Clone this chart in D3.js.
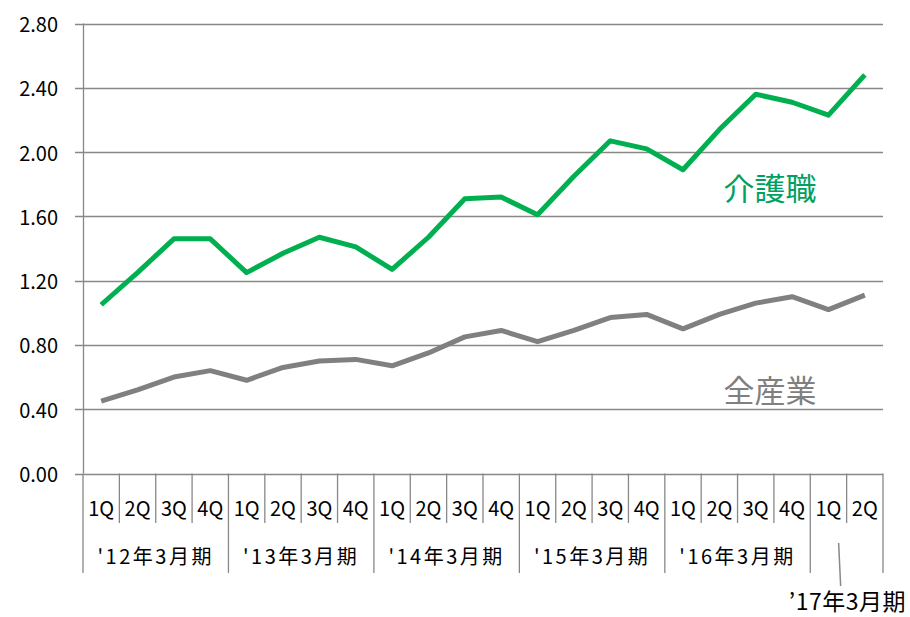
<!DOCTYPE html>
<html>
<head>
<meta charset="utf-8">
<script src="https://cdn.jsdelivr.net/npm/d3@7"></script>
<style>
  html, body { margin: 0; padding: 0; background: #fff; }
  svg { display: block; font-family: "Noto Sans CJK JP", "DejaVu Sans", sans-serif; }
</style>
</head>
<body>
<svg id="chart" width="910" height="617"></svg>
<script>
const quarters = ['1Q','2Q','3Q','4Q','1Q','2Q','3Q','4Q','1Q','2Q','3Q','4Q',
                  '1Q','2Q','3Q','4Q','1Q','2Q','3Q','4Q','1Q','2Q'];
const fiscalYears = ["'12年3月期", "'13年3月期", "'14年3月期", "'15年3月期", "'16年3月期", "’17年3月期"];
const yearSpan = [4, 4, 4, 4, 4, 2];
const kaigo = [1.05, 1.25, 1.46, 1.46, 1.25, 1.37, 1.47, 1.41, 1.27, 1.47, 1.71, 1.72,
               1.61, 1.85, 2.07, 2.02, 1.89, 2.14, 2.36, 2.31, 2.23, 2.48];
const zensangyo = [0.45, 0.52, 0.60, 0.64, 0.58, 0.66, 0.70, 0.71, 0.67, 0.75, 0.85, 0.89,
                   0.82, 0.89, 0.97, 0.99, 0.90, 0.99, 1.06, 1.10, 1.02, 1.11];
const yTicks = [0, 0.4, 0.8, 1.2, 1.6, 2.0, 2.4, 2.8];

const svg = d3.select('#chart');
const plot = { left: 83, right: 883, top: 23.5, bottom: 473.5 };
const gridColor = '#888';

const x = d3.scaleBand().domain(d3.range(quarters.length)).range([plot.left, plot.right]).padding(0);
const y = d3.scaleLinear().domain([0, 2.8]).range([plot.bottom, plot.top]);
const cx = i => x(i) + x.bandwidth() / 2;

// gridlines + y labels
svg.append('g').selectAll('line').data(yTicks).join('line')
  .attr('x1', plot.left - 8).attr('x2', plot.right)
  .attr('y1', d => Math.round(y(d)) + 0.5).attr('y2', d => Math.round(y(d)) + 0.5)
  .attr('stroke', gridColor).attr('stroke-width', 1.3);
svg.append('g').selectAll('text').data(yTicks).join('text')
  .attr('x', 58).attr('y', d => y(d))
  .attr('text-anchor', 'end').attr('dominant-baseline', 'central')
  .attr('font-size', 20).attr('fill', '#000')
  .text(d => d.toFixed(2));

// vertical axis line
svg.append('line').attr('x1', plot.left + 0.5).attr('x2', plot.left + 0.5)
  .attr('y1', plot.top).attr('y2', plot.bottom).attr('stroke', gridColor).attr('stroke-width', 1.3);

// category axis: quarter separators, longer at fiscal-year boundaries
const yearStarts = yearSpan.map((s, k) => d3.sum(yearSpan.slice(0, k)));
const bounds = d3.range(quarters.length + 1);
svg.append('g').selectAll('line').data(bounds).join('line')
  .attr('x1', i => i < quarters.length ? x(i) : plot.right)
  .attr('x2', i => i < quarters.length ? x(i) : plot.right)
  .attr('y1', plot.bottom)
  .attr('y2', i => (yearStarts.includes(i) || i === quarters.length) ? 573 : 523)
  .attr('stroke', gridColor).attr('stroke-width', 1.3);

svg.append('g').selectAll('text').data(quarters).join('text')
  .attr('x', (d, i) => cx(i)).attr('y', 507)
  .attr('text-anchor', 'middle').attr('dominant-baseline', 'central')
  .attr('font-size', 20).attr('fill', '#000')
  .text(d => d);

// fiscal year labels (the last one is a callout)
svg.append('g').selectAll('text').data(fiscalYears.slice(0, 5)).join('text')
  .attr('x', (d, k) => x(yearStarts[k]) + x.bandwidth() * yearSpan[k] / 2)
  .attr('y', 555)
  .attr('text-anchor', 'middle').attr('dominant-baseline', 'central')
  .attr('font-size', 20).attr('letter-spacing', 2.5).attr('fill', '#000')
  .text(d => d);

const lastK = fiscalYears.length - 1;
const lastCenter = x(yearStarts[lastK]) + x.bandwidth() * yearSpan[lastK] / 2;
svg.append('line')
  .attr('x1', lastCenter - 8).attr('y1', 543)
  .attr('x2', lastCenter - 6).attr('y2', 586)
  .attr('stroke', gridColor).attr('stroke-width', 1.5);
svg.append('text')
  .attr('x', 906).attr('y', 600)
  .attr('text-anchor', 'end').attr('dominant-baseline', 'central')
  .attr('font-size', 23).attr('letter-spacing', 0.5).attr('fill', '#000')
  .text(fiscalYears[lastK]);

// series
const line = d3.line().x((d, i) => cx(i)).y(d => y(d));
svg.append('path').datum(zensangyo)
  .attr('d', line).attr('fill', 'none')
  .attr('stroke', '#808080').attr('stroke-width', 5).attr('stroke-linejoin', 'round');
svg.append('path').datum(kaigo)
  .attr('d', line).attr('fill', 'none')
  .attr('stroke', '#00b050').attr('stroke-width', 5).attr('stroke-linejoin', 'round');

// series labels
svg.append('text').attr('x', 770).attr('y', 186)
  .attr('text-anchor', 'middle').attr('dominant-baseline', 'central')
  .attr('font-size', 31).attr('fill', '#00a060').text('介護職');
svg.append('text').attr('x', 770).attr('y', 388)
  .attr('text-anchor', 'middle').attr('dominant-baseline', 'central')
  .attr('font-size', 31).attr('fill', '#808080').text('全産業');
</script>
</body>
</html>
